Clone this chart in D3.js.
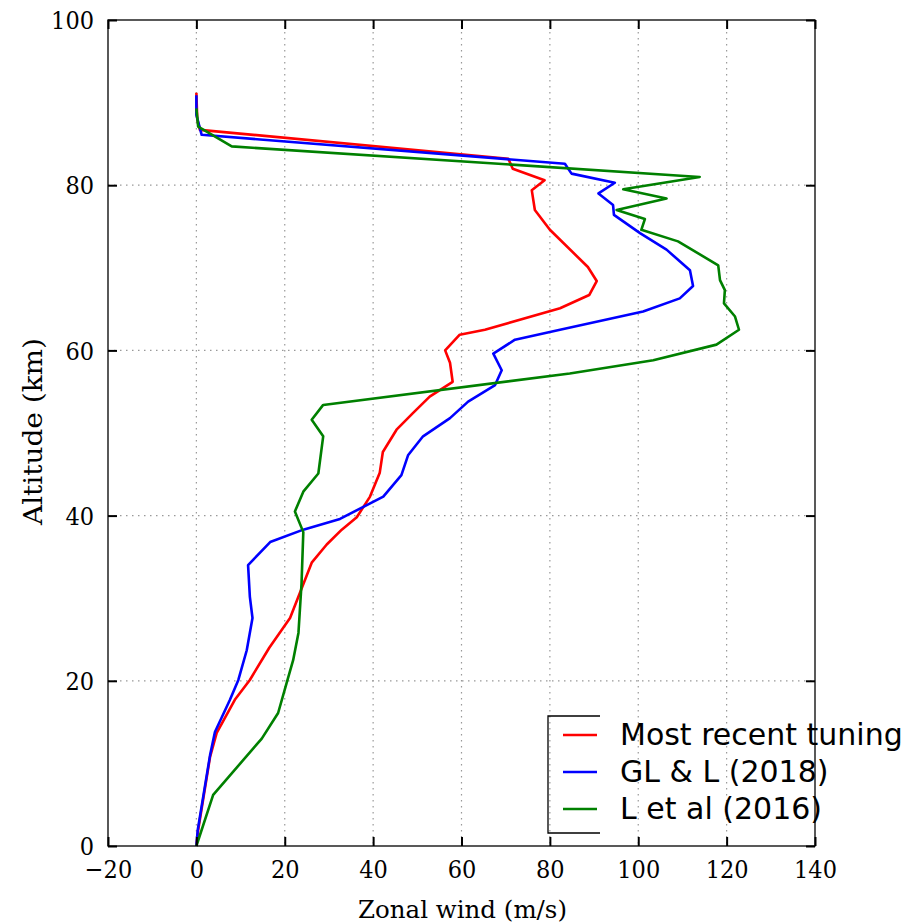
<!DOCTYPE html>
<html><head><meta charset="utf-8">
<script src="https://cdn.jsdelivr.net/npm/d3@7/dist/d3.min.js"></script>
<style>
body{margin:0;background:#fff;}
svg{display:block;}
.tick-label{font-family:"DejaVu Serif Condensed","DejaVu Serif",serif;font-stretch:condensed;font-size:25px;fill:#000;}
.axis-title{font-family:"DejaVu Serif",serif;fill:#000;}
.legend-text{font-family:"DejaVu Sans",sans-serif;font-size:30px;fill:#000;}
</style></head>
<body>
<svg id="chart" width="914" height="924"></svg>
<script>
// Data: [altitude km, zonal wind m/s]
const seriesNames = ["Most recent tuning", "GL & L (2018)", "L et al (2016)"];
const seriesColors = ["#ff0000", "#0000ff", "#008000"];
const recentAlt = [91.2,88,86.7,83.2,82.0,80.6,79.4,77.0,74.6,70.1,68.4,66.7,65.1,62.5,61.9,60.0,58.5,56.2,54.4,52.4,50.4,47.7,45.2,42.3,39.8,38.3,36.5,34.3,27.6,24,20.1,17.7,13.7,10.8,1.9,0];
const recentWind = [0,0.2,0.8,70.6,71.6,78.8,75.9,76.6,80,88.6,90.6,88.9,82.3,65.3,59.6,56.3,57.4,58,52.8,49,45.3,42.2,41.5,39.3,36.3,32.9,29.5,26.1,21.2,16.5,12.1,8.7,4.6,3.1,0.4,0];
const glAlt = [90.9,88.5,86.1,82.6,81.4,80.3,79.0,77.6,76.4,74.2,72.2,69.7,67.8,66.3,64.7,62.5,61.3,59.6,57.6,55.8,53.8,51.8,49.6,47.3,44.9,42.3,39.6,38.3,36.8,34.0,30.2,27.6,23.7,20.1,17.7,13.8,11.0,1.9,0];
const glWind = [0,0,1.2,83.4,84.9,94.7,91,94.3,94.5,100.4,106.4,111.7,112.4,109.4,101.1,82.3,72.1,67.2,69.1,67.6,61.5,57.4,51.3,47.9,46.4,42.3,32.5,24.2,16.7,11.7,12.1,12.7,11.4,9.5,7.6,4.2,3.1,0.3,0];
const letAlt = [89.3,87.1,84.7,81.0,79.5,78.4,77.0,75.9,74.6,73.2,70.3,68.5,67.3,65.7,64.1,62.5,60.7,58.8,57.2,53.4,51.6,49.6,45.1,42.9,40.5,38.0,31.8,25.8,22.5,19.7,16.1,13.0,6.2,0];
const letWind = [0,0.4,8,113.9,96.6,106.4,95.1,101.5,100.7,109,118.1,118.5,119.6,119.4,121.9,122.8,117.7,103.4,84.5,28.7,26.1,28.7,27.6,24.2,22.3,24.2,23.8,23.1,21.9,20.4,18.5,14.8,3.8,0];
const xTicks = [-20,0,20,40,60,80,100,120,140];
const yTicks = [0,20,40,60,80,100];
const xTitle = "Zonal wind (m/s)";
const yTitle = "Altitude (km)";

const series = [
  {name:seriesNames[0], color:seriesColors[0], alt:recentAlt, wind:recentWind},
  {name:seriesNames[1], color:seriesColors[1], alt:glAlt, wind:glWind},
  {name:seriesNames[2], color:seriesColors[2], alt:letAlt, wind:letWind}
];

const PL=108, PR=815, PT=20, PB=846;
const x = d3.scaleLinear().domain([-20,140]).range([PL,PR]);
const y = d3.scaleLinear().domain([0,100]).range([PB,PT]);
const svg = d3.select("#chart");

// grid
const grid = svg.append("g").attr("stroke","#999").attr("stroke-width",1.2).attr("stroke-dasharray","1.5,4.5");
grid.selectAll("line.vx").data(xTicks.slice(1,-1)).enter().append("line")
  .attr("x1",d=>x(d)).attr("x2",d=>x(d)).attr("y1",PT).attr("y2",PB);
grid.selectAll("line.hy").data(yTicks.slice(1,-1)).enter().append("line")
  .attr("x1",PL).attr("x2",PR).attr("y1",d=>y(d)).attr("y2",d=>y(d));

// lines
const line = d3.line().x(d=>x(d[1])).y(d=>y(d[0]));
series.forEach(s=>{
  const pts = s.alt.map((a,i)=>[a,s.wind[i]]);
  svg.append("path").datum(pts).attr("d",line).attr("fill","none")
    .attr("stroke",s.color).attr("stroke-width",2.6).attr("stroke-linejoin","round");
});

// axes with inward ticks
const tickLen = 9;
const gBottom = svg.append("g").attr("transform",`translate(0,${PB})`)
  .call(d3.axisBottom(x).tickValues(xTicks).tickSizeInner(-tickLen).tickSizeOuter(0).tickPadding(18)
  .tickFormat(d=>d<0?"\u2212"+Math.abs(d):d));
const gTop = svg.append("g").attr("transform",`translate(0,${PT})`)
  .call(d3.axisTop(x).tickValues(xTicks).tickSizeInner(-tickLen).tickSizeOuter(0).tickFormat(""));
const gLeft = svg.append("g").attr("transform",`translate(${PL},0)`)
  .call(d3.axisLeft(y).tickValues(yTicks).tickSizeInner(-tickLen).tickSizeOuter(0).tickPadding(14));
const gRight = svg.append("g").attr("transform",`translate(${PR},0)`)
  .call(d3.axisRight(y).tickValues(yTicks).tickSizeInner(-tickLen).tickSizeOuter(0).tickFormat(""));
[gBottom,gTop,gLeft,gRight].forEach(g=>{
  g.select(".domain").remove();
  g.selectAll(".tick line").attr("stroke","#000").attr("stroke-width",2);
  g.selectAll(".tick text").attr("class","tick-label").attr("font-size",null).attr("font-family",null);
});
gLeft.selectAll(".tick text").attr("dy","0.35em");
gBottom.selectAll(".tick text").attr("dy","0.55em");
svg.append("rect").attr("x",PL).attr("y",PT).attr("width",PR-PL).attr("height",PB-PT)
  .attr("fill","none").attr("stroke","#000").attr("stroke-width",1.3);

// titles
svg.append("text").attr("class","axis-title").attr("font-size",24.5).attr("x",462.5).attr("y",918)
  .attr("text-anchor","middle").attr("textLength",209).attr("lengthAdjust","spacingAndGlyphs").text(xTitle);
svg.append("text").attr("class","axis-title").attr("font-size",26).attr("transform",`translate(42,431.5) rotate(-90)`)
  .attr("text-anchor","middle").attr("textLength",187).attr("lengthAdjust","spacingAndGlyphs").text(yTitle);

// legend
const lg = svg.append("g");
lg.append("path").attr("d","M600,716 H548 V833 H600").attr("fill","none").attr("stroke","#000").attr("stroke-width",1.3);
series.forEach((s,i)=>{
  const yy = 735 + i*37;
  lg.append("line").attr("x1",563).attr("x2",597).attr("y1",yy).attr("y2",yy)
    .attr("stroke",s.color).attr("stroke-width",2.6);
  lg.append("text").attr("class","legend-text").attr("x",620).attr("y",yy+10).text(s.name);
});
</script>
</body></html>
